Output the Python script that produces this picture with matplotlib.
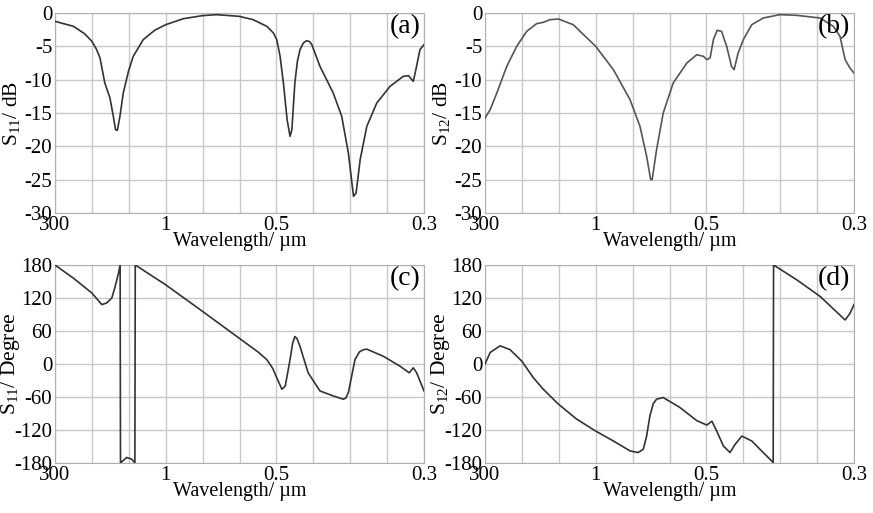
import numpy as np
import matplotlib
matplotlib.use("Agg")
import matplotlib.pyplot as plt

plt.rcParams['font.family'] = ['Liberation Serif', 'DejaVu Serif']
plt.rcParams['mathtext.fontset'] = 'custom'
plt.rcParams['mathtext.rm'] = 'Liberation Serif'
plt.rcParams['mathtext.it'] = 'Liberation Serif'
plt.rcParams['axes.unicode_minus'] = False

# x positions are grid-division positions (0..10) on the wavelength axis
tick_pos = [0, 3, 6, 10]
tick_labels = ['300', '1', '0.5', '0.3']

# (a) S11 magnitude
a_x = [0, 0.5, 0.8, 1.0, 1.12, 1.22, 1.35, 1.49, 1.58, 1.64, 1.69, 1.76, 1.85, 1.99, 2.12, 2.39,
       2.7, 3.0, 3.48, 3.99, 4.38, 4.99, 5.37, 5.74, 5.92, 6.01, 6.1, 6.19, 6.29, 6.37, 6.42,
       6.5, 6.57, 6.64, 6.73, 6.82, 6.9, 6.96, 7.18, 7.54, 7.77, 7.95, 8.09, 8.16, 8.27, 8.45,
       8.72, 9.08, 9.44, 9.58, 9.67, 9.71, 9.78, 9.89, 10]
a_y = [-1.25, -2, -3.1, -4.25, -5.4, -6.75, -10.5, -12.75, -15.5, -17.5, -17.6, -15.5, -12, -8.75,
       -6.5, -4, -2.6, -1.75, -0.85, -0.4, -0.25, -0.5, -1, -2, -3, -4, -6.5, -10.5, -16, -18.5,
       -17.5, -10.5, -7.2, -5.5, -4.5, -4.15, -4.3, -4.75, -8, -12, -15.5, -21, -27.5, -27, -22,
       -17, -13.5, -11, -9.5, -9.4, -10, -10.25, -8.5, -5.5, -4.75]

# (b) S12 magnitude
b_x = [0, 0.14, 0.32, 0.59, 0.86, 1.13, 1.4, 1.58, 1.76, 1.99, 2.39, 3.0, 3.48, 3.93, 4.2,
       4.38, 4.49, 4.53, 4.65, 4.83, 5.1, 5.47, 5.74, 5.92, 6.01, 6.1, 6.19, 6.29, 6.41,
       6.55, 6.68, 6.75, 6.86, 7.0, 7.23, 7.54, 7.99, 8.45, 9.08, 9.44, 9.62, 9.76, 9.89, 10]
b_y = [-15.75, -14.5, -12, -8, -5, -2.75, -1.6, -1.4, -1, -0.9, -1.75, -5, -8.5, -13, -17,
       -21.5, -25, -25, -20.5, -15, -10.5, -7.5, -6.25, -6.5, -7, -6.75, -4, -2.6, -2.75,
       -5, -8, -8.5, -6, -4, -1.75, -0.75, -0.25, -0.35, -0.75, -2, -3.5, -7, -8.25, -9]

# (c) S11 phase
c_x = [0, 0.5, 1.0, 1.27, 1.4, 1.54, 1.63, 1.72, 1.765, 1.775, 1.94, 2.08, 2.165, 2.175,
       3.0, 3.93, 4.99, 5.5, 5.74, 5.9, 6.01, 6.15, 6.24, 6.37, 6.44, 6.5, 6.56, 6.64, 6.86,
       7.18, 7.54, 7.81, 7.88, 7.95, 8.13, 8.25, 8.36, 8.45, 8.9, 9.35, 9.6, 9.71, 9.8, 10]
c_y = [180, 156, 129, 108, 111, 120, 141, 165, 180, -180, -170, -173, -180, 180,
       144, 99, 47, 22, 8, -8, -25, -46, -40, 8, 38, 50, 46, 32, -16,
       -49, -58, -64, -62, -52, 8, 22, 26, 27, 14, -4, -16, -7, -16, -49]

# (d) S12 phase
d_x = [0, 0.14, 0.41, 0.68, 1.0, 1.31, 1.58, 1.99, 2.48, 3.0, 3.48, 3.93, 4.15, 4.29, 4.38,
       4.47, 4.56, 4.65, 4.83, 5.28, 5.74, 6.01, 6.15, 6.28, 6.46, 6.64, 6.78, 6.96, 7.23, 7.54,
       7.81, 7.82, 8.45, 9.08, 9.76, 9.89, 10]
d_y = [0, 21, 33, 26, 5, -25, -46, -73, -100, -122, -140, -158, -161, -155, -131,
       -94, -72, -64, -61, -79, -103, -111, -104, -122, -149, -161, -146, -131, -140, -161,
       -179, 180, 153, 123, 80, 92, 108]

W, H = 873, 513
fig = plt.figure(figsize=(W / 100, H / 100), dpi=100)

def px_axes(l, t, r, b):
    return fig.add_axes([l / W, 1 - b / H, (r - l) / W, (b - t) / H])

panels = [
    (px_axes(55, 13, 424, 213), a_x, a_y, '#333333', r'S$_{11}$/ dB', (-30, 0), range(-30, 1, 5), '(a)'),
    (px_axes(485, 13, 854, 213), b_x, b_y, '#555555', r'S$_{12}$/ dB', (-30, 0), range(-30, 1, 5), '(b)'),
    (px_axes(55, 265, 424, 463), c_x, c_y, '#333333', r'S$_{11}$/ Degree', (-180, 180), range(-180, 181, 60), '(c)'),
    (px_axes(485, 265, 854, 463), d_x, d_y, '#333333', r'S$_{12}$/ Degree', (-180, 180), range(-180, 181, 60), '(d)'),
]

for ax, x, y, col, ylab, ylim, yt, tag in panels:
    ax.plot(x, y, color=col, lw=1.2, zorder=3)
    ax.set_xlim(0, 10)
    ax.set_ylim(*ylim)
    ax.set_xticks(tick_pos)
    ax.set_xticklabels(tick_labels)
    ax.set_xticks(range(11), minor=True)
    ax.set_yticks(list(yt))
    ax.grid(True, which='both', color='#c8c8c8', lw=1.0)
    ax.tick_params(which='both', length=0, labelsize=15, pad=2)
    for s in ax.spines.values():
        s.set_color('#b0b0b0')
    ax.set_xlabel('Wavelength/ µm', fontsize=14.5, labelpad=-2)
    ax.set_ylabel(ylab, fontsize=15.5)
    ax.yaxis.set_label_coords(-0.09, 0.5)
    ax.text(0.99, 0.995, tag, transform=ax.transAxes, ha='right', va='top',
            fontsize=20, zorder=4)

fig.savefig('out.png', dpi=100)
